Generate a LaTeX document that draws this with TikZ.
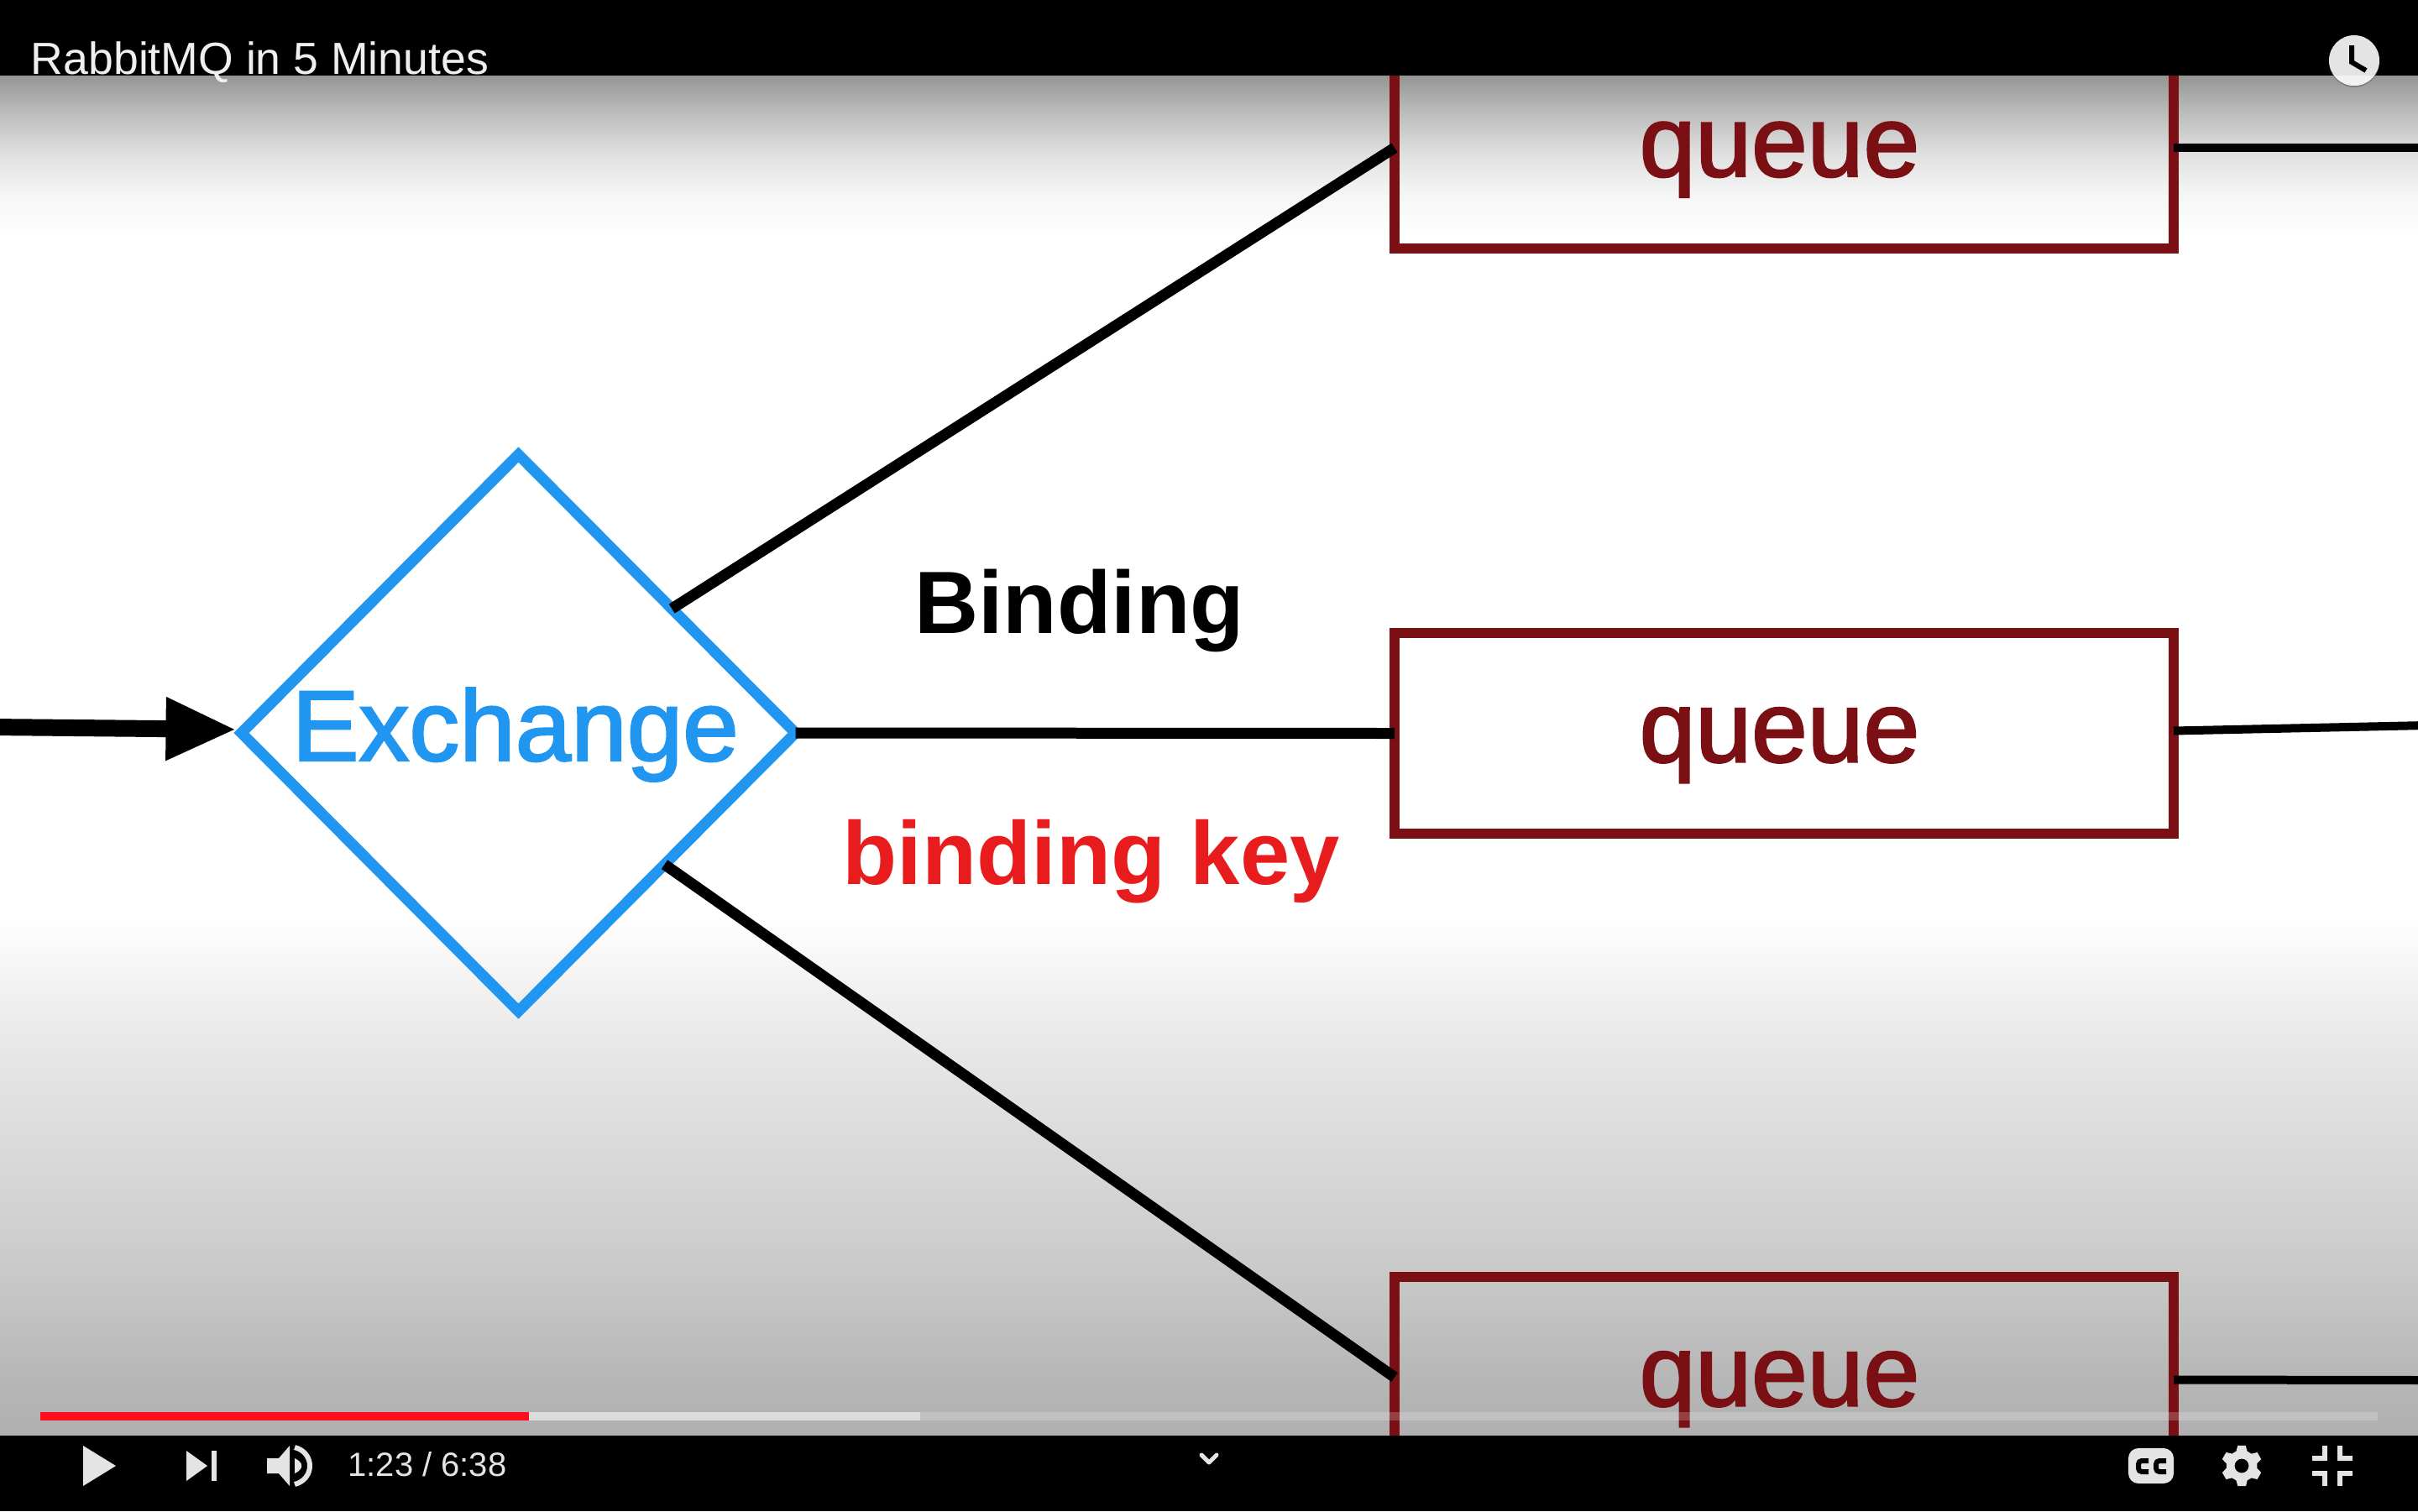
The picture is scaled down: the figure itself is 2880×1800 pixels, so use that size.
\documentclass[tikz,border=0pt]{standalone}
\usepackage{fontspec}
\setmainfont{Liberation Sans}
\newfontfamily\medfont{Liberation Sans}[FakeBold=2]
\usetikzlibrary{arrows.meta,shapes.geometric}
\definecolor{qred}{HTML}{7A0F14}
\definecolor{exblue}{HTML}{2196F0}
\definecolor{keyred}{HTML}{E81C1C}
\definecolor{icon}{HTML}{E4E4E4}
\definecolor{ytred}{HTML}{FF0F1E}
\definecolor{buffered}{HTML}{DCDCDC}
\pgfdeclareverticalshading{vidbg}{100bp}{
 rgb(0bp)=(.69,.69,.69);rgb(25bp)=(.69,.69,.69);rgb(27.07bp)=(.714,.714,.714);
 rgb(29.9bp)=(.769,.769,.769);rgb(32.75bp)=(.816,.816,.816);rgb(35.6bp)=(.855,.855,.855);
 rgb(38.4bp)=(.894,.894,.894);rgb(41.2bp)=(.941,.941,.941);rgb(44.1bp)=(1,1,1);
 rgb(69.1bp)=(1,1,1);rgb(70.7bp)=(.961,.961,.961);rgb(72.2bp)=(.871,.871,.871);
 rgb(73.8bp)=(.722,.722,.722);rgb(75bp)=(.584,.584,.584);rgb(100bp)=(.584,.584,.584)}
\tikzset{
 queuebox/.style={draw=qred,line width=6pt,rectangle,minimum width=464pt,minimum height=119.5pt,
   inner sep=0pt,outer sep=0pt,text=qred,font=\medfont\fontsize{60}{60}\selectfont,text height=34pt,text depth=0pt},
 exdiamond/.style={draw=exblue,line width=6.5pt,diamond,aspect=1,minimum width=330pt,minimum height=331.5pt,
   inner sep=0pt,outer sep=0pt,text=exblue,font=\medfont\fontsize{59.8}{60}\selectfont,text height=33pt,text depth=0pt},
 wire/.style={draw=black,line width=6.5pt},
 stub/.style={draw=black,line width=5pt},
 feed/.style={draw=black,line width=10pt,-{Triangle[length=42pt,width=35pt]},shorten >=3pt},
 bindlabel/.style={inner sep=0pt,anchor=base west,text=black,font=\fontsize{52.75}{60}\selectfont\bfseries},
 keylabel/.style={inner sep=0pt,anchor=base west,text=keyred,font=\fontsize{53.3}{60}\selectfont\bfseries},
 titletext/.style={inner sep=0pt,anchor=base west,text=icon!60!white,font=\fontsize{26.8}{30}\selectfont},
 timetext/.style={inner sep=0pt,anchor=base west,text=icon,font=\fontsize{20}{24}\selectfont},
 iconfill/.style={fill=icon,draw=none},
 iconline/.style={draw=icon,line width=3pt,line join=miter}
}
\begin{document}
\begin{tikzpicture}[x=0.5pt,y=-0.5pt]
\useasboundingbox (0,0) rectangle (2880,1800);
\clip (0,0) rectangle (2880,1800);
% video background
\shade[shading=vidbg] (0,90) rectangle (2880,1710);
% diagram
\node[exdiamond] (ex) at (617.5,873) {Exchange\kern3.7pt};
\node[queuebox] (q1) at (2125,176) {queue\kern5.5pt};
\node[queuebox] (q2) at (2125,873.5) {queue\kern5.5pt};
\node[queuebox] (q3) at (2125,1640.5) {queue\kern5.5pt};
\coordinate (src) at (-10,866);
\coordinate (o1) at (2890,176);
\coordinate (o2) at (2890,864);
\coordinate (o3) at (2890,1644);
\draw[feed] (src) -- ([yshift=2pt]ex.west);
\draw[wire] (ex.39) -- (q1.west);
\draw[wire] (ex.east) -- (q2.west);
\draw[wire] (ex.-42) -- (q3.west);
\draw[stub] (q1.east) -- (o1);
\draw[stub] ([yshift=1.5pt]q2.east) -- (o2);
\draw[stub] ([yshift=-1.5pt]q3.east) -- (o3);
\node[bindlabel] (bind) at (1089,754) {Binding};
\node[keylabel] (key) at (1003,1053) {binding key};
% player bars
\fill[black] (0,0) rectangle (2880,90);
\fill[black] (0,1710) rectangle (2880,1800);
% progress
\fill[white,opacity=.2] (1096,1682) rectangle (2832,1692);
\fill[buffered] (630,1682) rectangle (1096,1692);
\fill[ytred] (48,1682) rectangle (630,1692);
% title and clock
\node[titletext] (title) at (36.5,88) {RabbitMQ in 5 Minutes};
\fill[black!60,opacity=.6] (2804,74) circle[radius=30];
\fill[icon] (2804,72) circle[radius=30];
\begin{scope}
 \clip (2760,90) rectangle (2850,110);
 \fill[white!95!black] (2804,72) circle[radius=30];
\end{scope}
\draw[black,line width=3pt,line join=miter] (2801,54) -- (2801,74) -- (2818,84);
% controls
\fill[iconfill] (99,1722) -- (138,1746) -- (99,1770) -- cycle;
\fill[iconfill] (222,1728) -- (247,1746) -- (222,1764) -- cycle;
\fill[iconfill] (252,1728) rectangle (258,1764);
\fill[iconfill] (318,1737) -- (332,1737) -- (345,1722) -- (345,1770) -- (332,1755) -- (318,1755) -- cycle;
\fill[iconfill] (351,1737) .. controls (362,1742) and (362,1750) .. (351,1755) -- cycle;
\draw[icon,line width=3pt] (351,1724) .. controls (375,1730) and (375,1762) .. (351,1768);
\node[timetext] (time) at (414,1758) {1:23 / 6:38};
\draw[icon,line width=2.5pt,line cap=round,line join=round] (1431,1733) -- (1440,1742) -- (1449,1733);
% cc
\fill[iconfill,rounded corners=6pt] (2535,1725) rectangle (2589,1767);
\draw[black,line width=3pt,rounded corners=2pt] (2559,1740) -- (2547,1740) -- (2547,1753) -- (2559,1753);
\draw[black,line width=3pt,rounded corners=2pt] (2580,1740) -- (2568,1740) -- (2568,1753) -- (2580,1753);
% gear
\begin{scope}[shift={(2670,1746)}]
 \fill[iconfill,even odd rule] (78:24.5) \foreach \a in {90,150,210,270,330,390} { -- ({\a-11}:24.5) -- ({\a+11}:24.5) -- ({\a+21}:18.5) -- ({\a+39}:18.5) } -- cycle (0,0) circle[radius=8.5];
\end{scope}
% exit fullscreen
\draw[iconline] (2754,1737) -- (2769,1737) -- (2769,1722);
\draw[iconline] (2802,1737) -- (2787,1737) -- (2787,1722);
\draw[iconline] (2754,1755) -- (2769,1755) -- (2769,1770);
\draw[iconline] (2802,1755) -- (2787,1755) -- (2787,1770);
\end{tikzpicture}
\end{document}
